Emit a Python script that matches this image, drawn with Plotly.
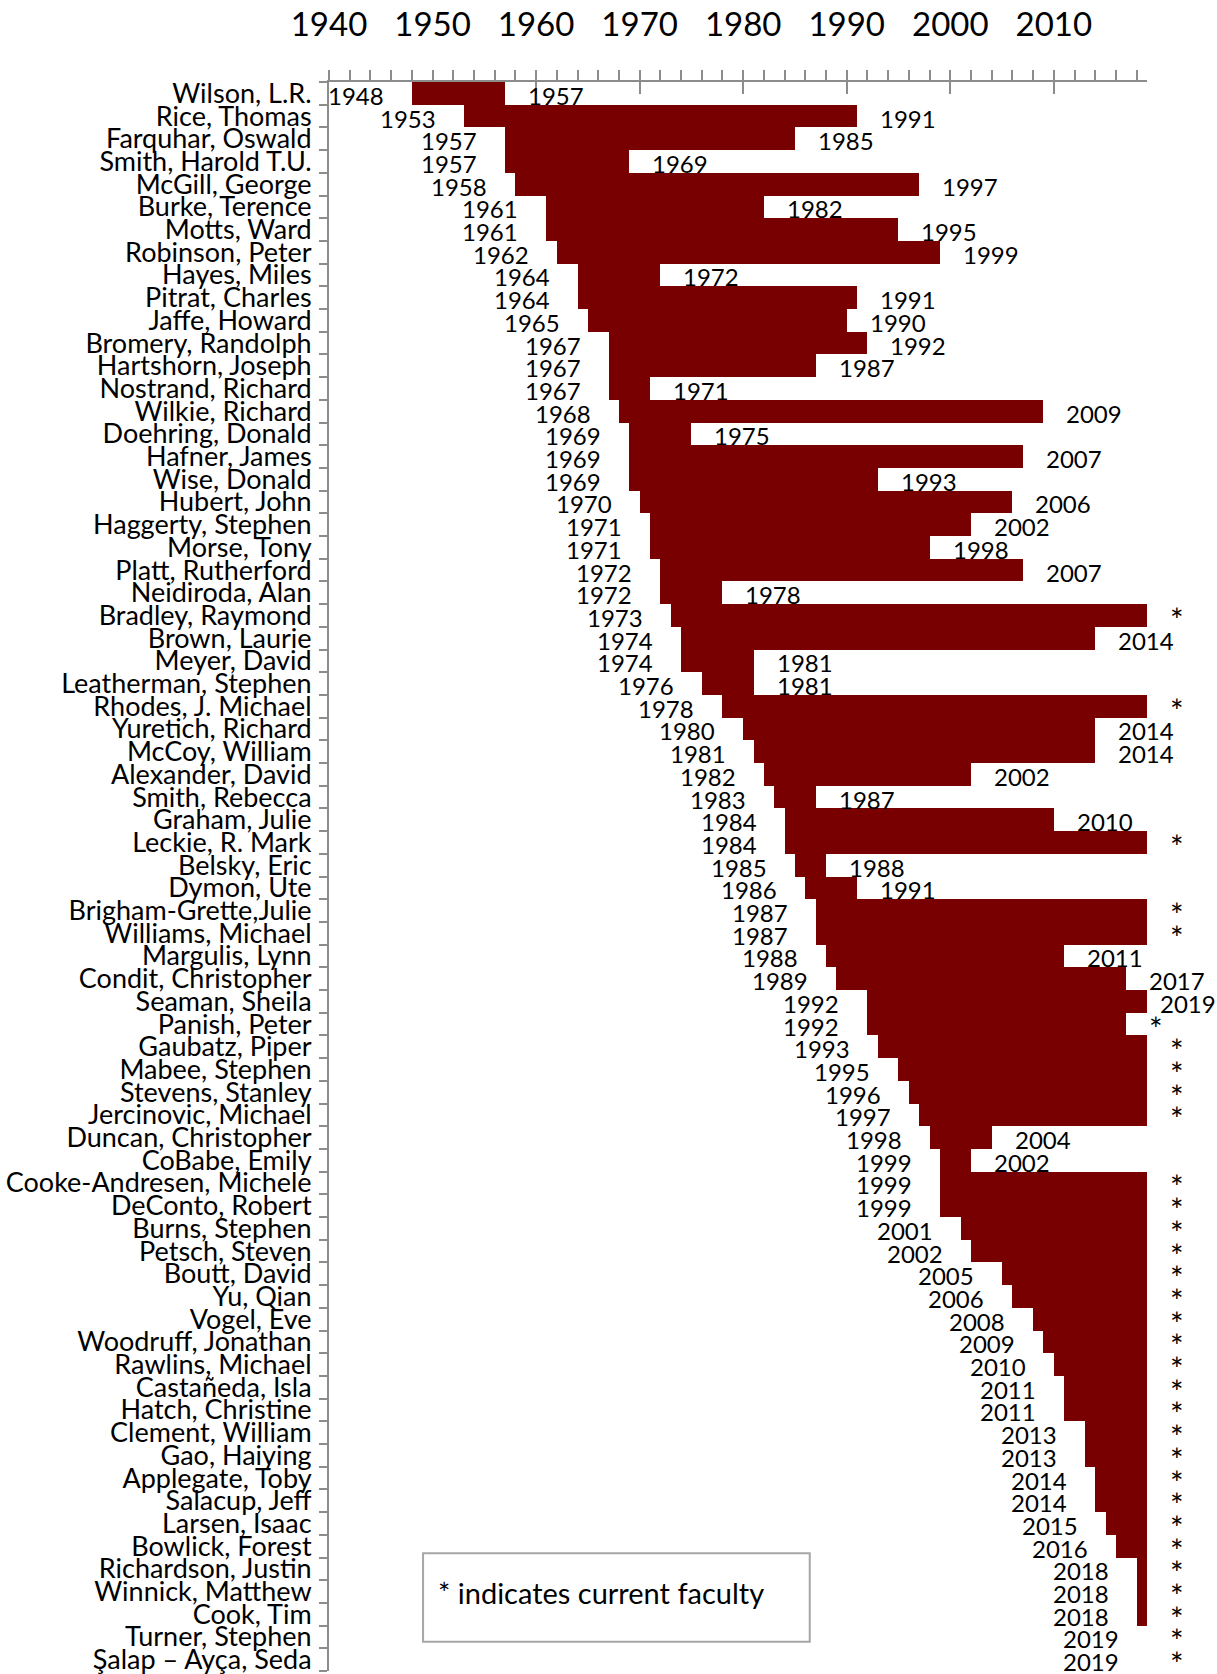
import plotly.graph_objects as go

names = [
    "Wilson, L.R.", "Rice, Thomas", "Farquhar, Oswald", "Smith, Harold T.U.",
    "McGill, George", "Burke, Terence", "Motts, Ward", "Robinson, Peter",
    "Hayes, Miles", "Pitrat, Charles", "Jaffe, Howard", "Bromery, Randolph",
    "Hartshorn, Joseph", "Nostrand, Richard", "Wilkie, Richard", "Doehring, Donald",
    "Hafner, James", "Wise, Donald", "Hubert, John", "Haggerty, Stephen",
    "Morse, Tony", "Platt, Rutherford", "Neidiroda, Alan", "Bradley, Raymond",
    "Brown, Laurie", "Meyer, David", "Leatherman, Stephen", "Rhodes, J. Michael",
    "Yuretich, Richard", "McCoy, William", "Alexander, David", "Smith, Rebecca",
    "Graham, Julie", "Leckie, R. Mark", "Belsky, Eric", "Dymon, Ute",
    "Brigham-Grette,Julie", "Williams, Michael", "Margulis, Lynn", "Condit, Christopher",
    "Seaman, Sheila", "Panish, Peter", "Gaubatz, Piper", "Mabee, Stephen",
    "Stevens, Stanley", "Jercinovic, Michael", "Duncan, Christopher", "CoBabe, Emily",
    "Cooke-Andresen, Michele", "DeConto, Robert", "Burns, Stephen", "Petsch, Steven",
    "Boutt, David", "Yu, Qian", "Vogel, Eve", "Woodruff, Jonathan",
    "Rawlins, Michael", "Castañeda, Isla", "Hatch, Christine", "Clement, William",
    "Gao, Haiying", "Applegate, Toby", "Salacup, Jeff", "Larsen, Isaac",
    "Bowlick, Forest", "Richardson, Justin", "Winnick, Matthew", "Cook, Tim",
    "Turner, Stephen", "Şalap – Ayça, Seda",
]

start_years = [
    1948, 1953, 1957, 1957, 1958, 1961, 1961, 1962, 1964, 1964,
    1965, 1967, 1967, 1967, 1968, 1969, 1969, 1969, 1970, 1971,
    1971, 1972, 1972, 1973, 1974, 1974, 1976, 1978, 1980, 1981,
    1982, 1983, 1984, 1984, 1985, 1986, 1987, 1987, 1988, 1989,
    1992, 1992, 1993, 1995, 1996, 1997, 1998, 1999, 1999, 1999,
    2001, 2002, 2005, 2006, 2008, 2009, 2010, 2011, 2011, 2013,
    2013, 2014, 2014, 2015, 2016, 2018, 2018, 2018, 2019, 2019,
]

end_years = [
    1957, 1991, 1985, 1969, 1997, 1982, 1995, 1999, 1972, 1991,
    1990, 1992, 1987, 1971, 2009, 1975, 2007, 1993, 2006, 2002,
    1998, 2007, 1978, 2019, 2014, 1981, 1981, 2019, 2014, 2014,
    2002, 1987, 2010, 2019, 1988, 1991, 2019, 2019, 2011, 2017,
    2019, 2017, 2019, 2019, 2019, 2019, 2004, 2002, 2019, 2019,
    2019, 2019, 2019, 2019, 2019, 2019, 2019, 2019, 2019, 2019,
    2019, 2019, 2019, 2019, 2019, 2019, 2019, 2019, 2019, 2019,
]

end_labels = [
    "1957", "1991", "1985", "1969", "1997", "1982", "1995", "1999", "1972", "1991",
    "1990", "1992", "1987", "1971", "2009", "1975", "2007", "1993", "2006", "2002",
    "1998", "2007", "1978", "*", "2014", "1981", "1981", "*", "2014", "2014",
    "2002", "1987", "2010", "*", "1988", "1991", "*", "*", "2011", "2017",
    "2019", "*", "*", "*", "*", "*", "2004", "2002", "*", "*",
    "*", "*", "*", "*", "*", "*", "*", "*", "*", "*",
    "*", "*", "*", "*", "*", "*", "*", "*", "*", "*",
]

year_range = [1940, 2019]
note_text = "* indicates current faculty"

BAR = "#780000"
AX = "#8c8c8c"
FONT = "Lato"

fig = go.Figure()
fig.add_trace(go.Bar(
    y=names,
    x=[e - s for s, e in zip(start_years, end_years)],
    base=start_years,
    orientation="h",
    width=1.0,
    marker=dict(color=BAR, line=dict(width=0)),
    hoverinfo="skip",
    showlegend=False,
))
# invisible trace to activate the overlay axis carrying the crossing major ticks
fig.add_trace(go.Scatter(
    x=[year_range[0]], y=[names[0]], xaxis="x2", mode="markers",
    marker=dict(opacity=0), hoverinfo="skip", showlegend=False,
))

annotations = []
for n, s, e, lab in zip(names, start_years, end_years, end_labels):
    annotations.append(dict(
        x=s, y=n, xref="x", yref="y", text=str(s), showarrow=False,
        xanchor="right", yanchor="middle", xshift=-26, yshift=-2,
        font=dict(family=FONT, size=24, color="black"),
    ))
    if lab == "*":
        annotations.append(dict(
            x=e, y=n, xref="x", yref="y", text=lab, showarrow=False,
            xanchor="left", yanchor="middle", xshift=21, yshift=-4,
            font=dict(family=FONT, size=32, color="black"),
        ))
    else:
        shift = 11 if e >= year_range[1] else 21
        annotations.append(dict(
            x=e, y=n, xref="x", yref="y", text=lab, showarrow=False,
            xanchor="left", yanchor="middle", xshift=shift, yshift=-2,
            font=dict(family=FONT, size=24, color="black"),
        ))

annotations.append(dict(
    x=0.131, y=0.0497, xref="paper", yref="paper", text=note_text,
    showarrow=False, xanchor="left", yanchor="middle",
    font=dict(family=FONT, size=29, color="black"),
))

fig.update_layout(
    width=1217, height=1674,
    margin=dict(l=329, r=70, t=82, b=3),
    paper_bgcolor="white", plot_bgcolor="white",
    bargap=0,
    annotations=annotations,
    shapes=[dict(
        type="rect", xref="paper", yref="paper",
        x0=0.115, x1=0.5877, y0=0.0184, y1=0.0741,
        line=dict(color="#a6a6a6", width=2), fillcolor="rgba(0,0,0,0)",
    )],
    xaxis=dict(
        side="top", range=year_range, tick0=1940, dtick=10,
        ticks="outside", ticklen=10, tickwidth=2, tickcolor=AX,
        showline=True, linecolor=AX, linewidth=2,
        showgrid=False, zeroline=False, automargin=False,
        tickfont=dict(family=FONT, size=33, color="black"),
        ticklabelstandoff=21,
        minor=dict(tick0=1940, dtick=2, ticks="outside", ticklen=10,
                   tickwidth=2, tickcolor=AX, showgrid=False),
        fixedrange=True,
    ),
    xaxis2=dict(
        overlaying="x", anchor="y", side="top", range=year_range,
        tick0=1940, dtick=10, ticks="inside", ticklen=12, tickwidth=2,
        tickcolor=AX, showticklabels=False, showline=False, automargin=False,
        showgrid=False, zeroline=False, layer="below traces", fixedrange=True,
    ),
    yaxis=dict(
        type="category", range=[len(names) - 0.5, -0.5],
        tickmode="array", tickvals=names, ticktext=names,
        tickson="boundaries",
        ticks="outside", ticklen=8, tickwidth=2, tickcolor=AX,
        showline=True, linecolor=AX, linewidth=2, showgrid=False,
        automargin=False, ticklabelstandoff=10,
        tickfont=dict(family=FONT, size=27, color="black"),
        fixedrange=True,
    ),
)

fig.write_html(
    "out.html",
    config={"displayModeBar": False},
    post_script="document.body.style.margin='0';",
)
